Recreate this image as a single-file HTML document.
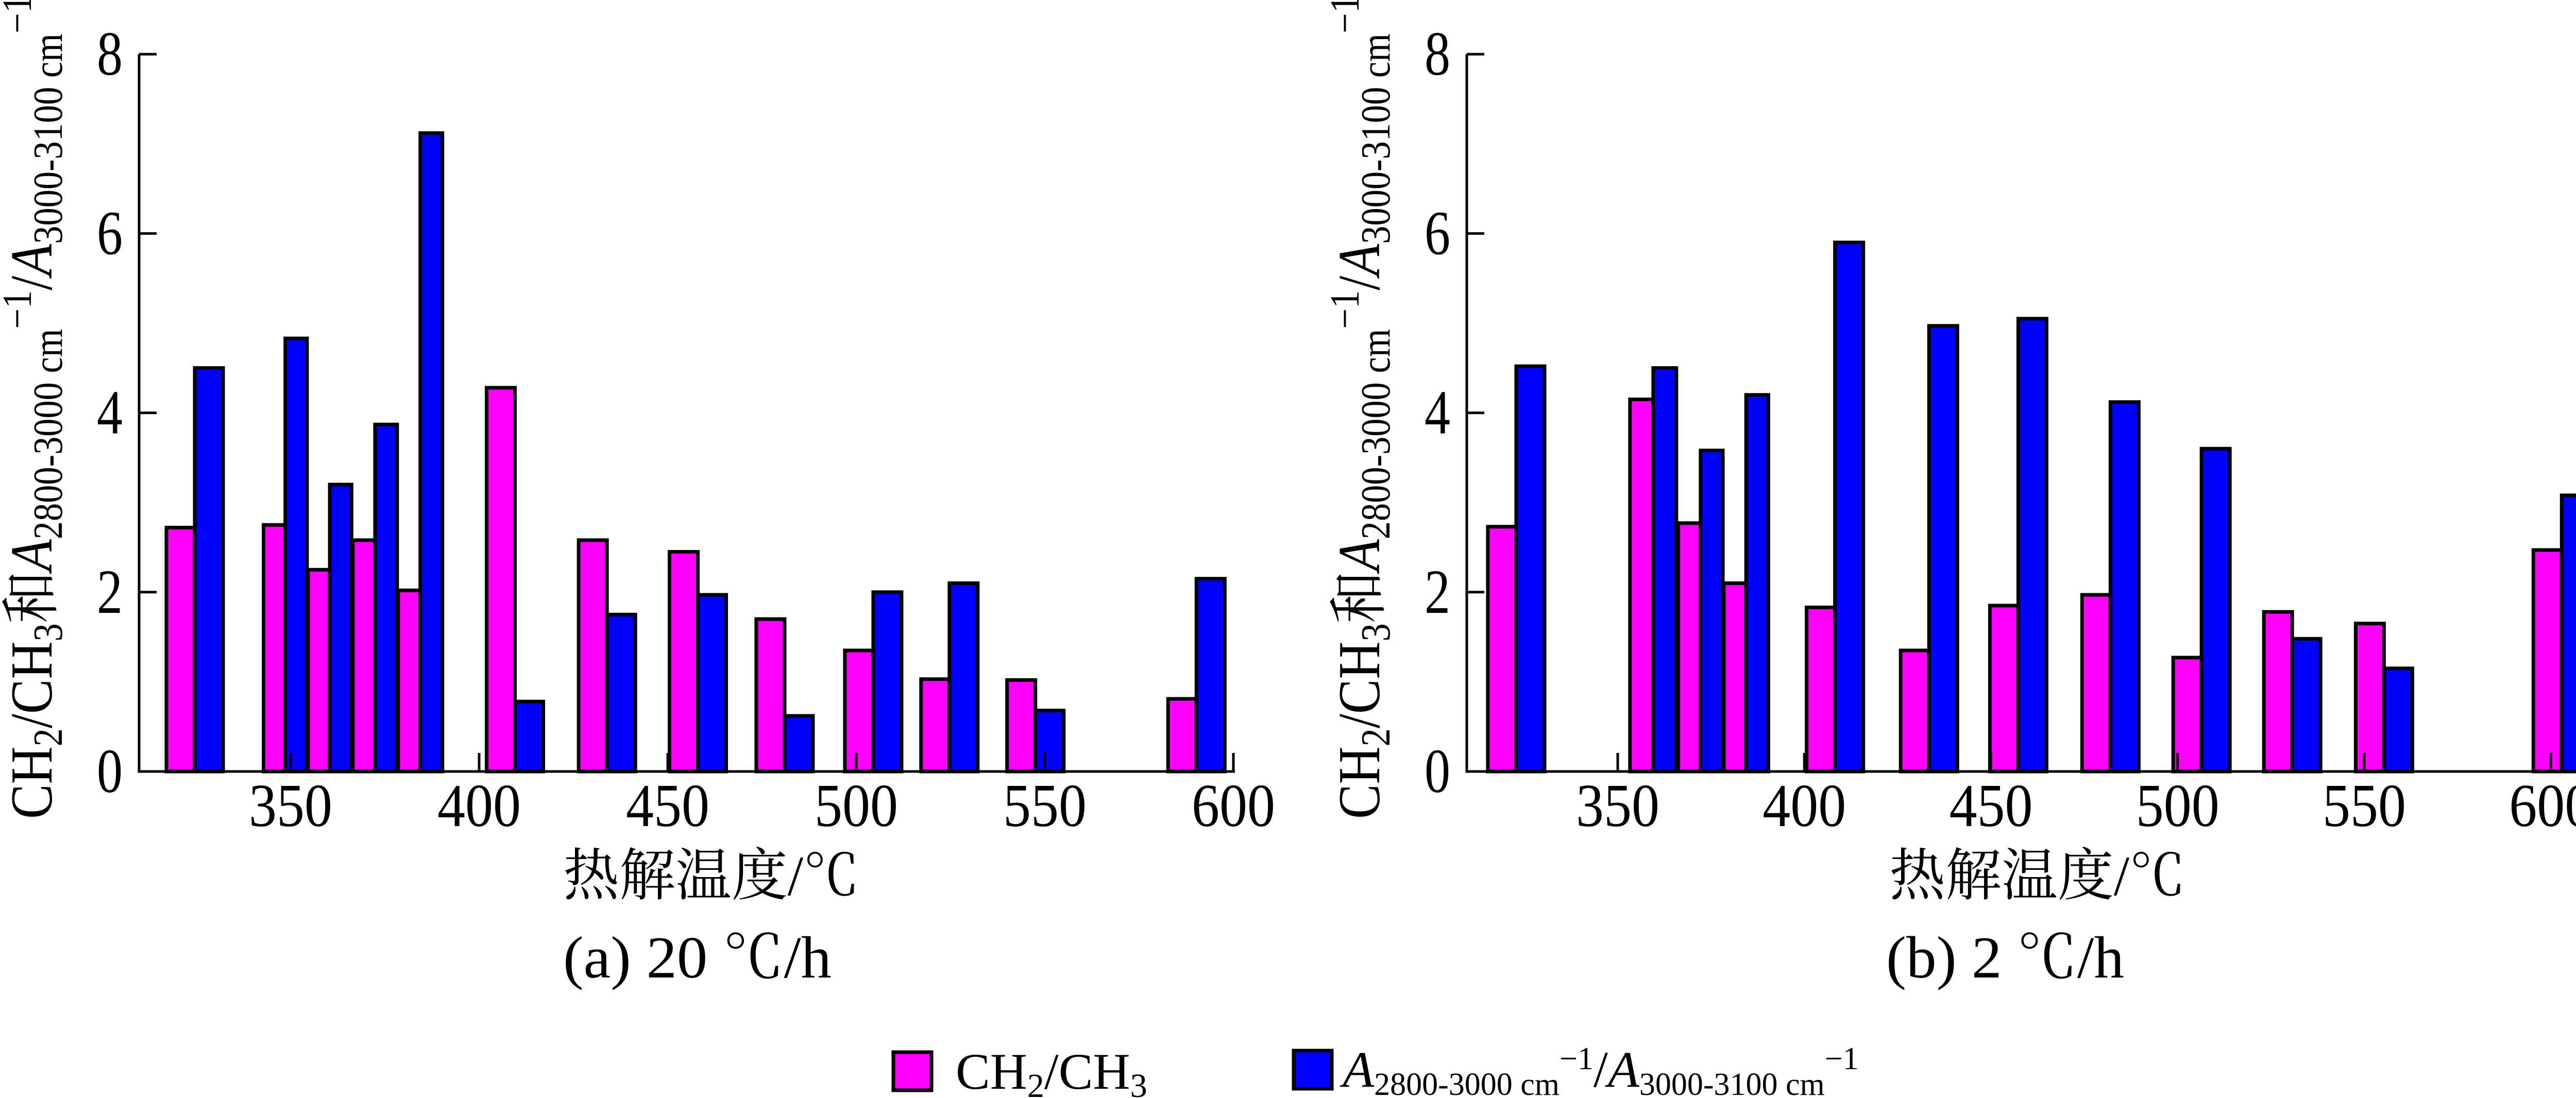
<!DOCTYPE html>
<html><head><meta charset="utf-8">
<style>
html,body{margin:0;padding:0;background:#fff;}
svg{display:block;font-family:"Liberation Serif","Noto Serif CJK SC","Noto Sans CJK SC",serif;}
</style></head>
<body>
<svg id="chart" width="5045" height="2132" viewBox="0 0 5045 2132" xmlns="http://www.w3.org/2000/svg">
<g id="panelA"></g>
<g id="panelB"></g>

<g transform="translate(1093,1738) scale(1,1.1)"><text x="0" y="0" font-size="100" textLength="575" lengthAdjust="spacingAndGlyphs">热解温度/℃</text></g>
<g transform="translate(1093,1898) scale(1,1.15)"><text x="0" y="0" font-size="100" textLength="521" lengthAdjust="spacingAndGlyphs">(a)  20 ℃/h</text></g>
<g transform="translate(3667,1738) scale(1,1.1)"><text x="0" y="0" font-size="100" textLength="575" lengthAdjust="spacingAndGlyphs">热解温度/℃</text></g>
<g transform="translate(3661,1898) scale(1,1.15)"><text x="0" y="0" font-size="100" textLength="462" lengthAdjust="spacingAndGlyphs">(b)  2 ℃/h</text></g>

<g transform="translate(100,1590) rotate(-90)">
<text font-size="115" textLength="1600" lengthAdjust="spacingAndGlyphs">CH<tspan font-size="80" dy="20">2</tspan><tspan dy="-20">/CH</tspan><tspan font-size="80" dy="20">3</tspan><tspan dy="-20">和</tspan><tspan font-style="italic">A</tspan><tspan font-size="80" dy="20">2800-3000 cm</tspan><tspan font-size="80" dy="-60">−1</tspan><tspan dy="40">/</tspan><tspan font-style="italic">A</tspan><tspan font-size="80" dy="20">3000-3100 cm</tspan><tspan font-size="80" dy="-60">−1</tspan></text>
</g>
<g transform="translate(2677,1590) rotate(-90)">
<text font-size="115" textLength="1600" lengthAdjust="spacingAndGlyphs">CH<tspan font-size="80" dy="20">2</tspan><tspan dy="-20">/CH</tspan><tspan font-size="80" dy="20">3</tspan><tspan dy="-20">和</tspan><tspan font-style="italic">A</tspan><tspan font-size="80" dy="20">2800-3000 cm</tspan><tspan font-size="80" dy="-60">−1</tspan><tspan dy="40">/</tspan><tspan font-style="italic">A</tspan><tspan font-size="80" dy="20">3000-3100 cm</tspan><tspan font-size="80" dy="-60">−1</tspan></text>
</g>

<g>
<rect x="1734" y="2043" width="74" height="74" fill="#ff00ff" stroke="#000" stroke-width="7"/>
<text x="1855" y="2114" font-size="100">CH<tspan font-size="66" dy="16">2</tspan><tspan dy="-16">/CH</tspan><tspan font-size="66" dy="16">3</tspan></text>
<rect x="2511" y="2040" width="74" height="74" fill="#0000ff" stroke="#000" stroke-width="7"/>
<text x="2606" y="2110" font-size="100"><tspan font-style="italic">A</tspan><tspan font-size="62" dy="16">2800-3000 cm</tspan><tspan font-size="62" dy="-50">−1</tspan><tspan dy="34">/</tspan><tspan font-style="italic">A</tspan><tspan font-size="62" dy="16">3000-3100 cm</tspan><tspan font-size="62" dy="-50">−1</tspan></text>
</g>
</svg>
<script>
const yTicks = [0, 2, 4, 6, 8];
const xTicks = [350, 400, 450, 500, 550, 600];
const tempsA = [324.6, 348.6, 360.4, 372.4, 384.4, 409.5, 433.9, 458.0, 481.0, 504.5, 524.7, 547.5, 590.2];
const ch2A = [2.72, 2.75, 2.25, 2.58, 2.02, 4.28, 2.58, 2.45, 1.70, 1.35, 1.03, 1.02, 0.81];
const ratioA = [4.50, 4.83, 3.20, 3.87, 7.12, 0.78, 1.75, 1.97, 0.62, 2.00, 2.10, 0.68, 2.15];
const tempsB = [322.8, 359.5, 372.2, 384.4, 408.2, 433.4, 457.3, 482.0, 506.4, 530.7, 555.3, 602.9];
const ch2B = [2.73, 4.15, 2.77, 2.10, 1.83, 1.35, 1.85, 1.97, 1.27, 1.78, 1.65, 2.47];
const ratioB = [4.52, 4.50, 3.58, 4.20, 5.90, 4.97, 5.05, 4.12, 3.60, 1.48, 1.15, 3.08];

const NS = 'http://www.w3.org/2000/svg';
function mk(tag, attrs, parent){
  const e = document.createElementNS(NS, tag);
  for (const k in attrs) e.setAttribute(k, attrs[k]);
  parent.appendChild(e);
  return e;
}
function drawPanel(g, cfg, temps, ch2, ratio, tag){
  const xs = t => cfg.x350 + (t - 350) * cfg.pxPerDeg;
  const ys = v => cfg.y0 - v * cfg.pxPerUnit;
  const axisLeft = cfg.axisLeft;
  temps.forEach((t, i) => {
    const c = xs(t);
    let gap = 1e9;
    if (i > 0) gap = Math.min(gap, c - xs(temps[i-1]));
    if (i < temps.length-1) gap = Math.min(gap, xs(temps[i+1]) - c);
    const w = Math.min(55, gap/2 - 1);
    const p = mk('rect', {x: c - w, y: ys(ch2[i]), width: w, height: ys(0) - ys(ch2[i]), fill:'#ff00ff', stroke:'#000', 'stroke-width':7}, g);
    
    
    const b = mk('rect', {x: c, y: ys(ratio[i]), width: w, height: ys(0) - ys(ratio[i]), fill:'#0000ff', stroke:'#000', 'stroke-width':7}, g);
    
    
  });
  const ya = mk('line', {x1: axisLeft, y1: ys(8), x2: axisLeft, y2: ys(0)+2.5, stroke:'#000', 'stroke-width':5}, g);
  
  
  const xa = mk('line', {x1: axisLeft - 2.5, y1: ys(0), x2: cfg.axisRight, y2: ys(0), stroke:'#000', 'stroke-width':5}, g);
  
  
  yTicks.forEach(v => {
    const tk = mk('line', {x1: axisLeft, y1: ys(v), x2: axisLeft + 34, y2: ys(v), stroke:'#000', 'stroke-width':5}, g);
    
    
    const tl = mk('text', {x: 0, y: 0, 'font-size': 100, 'text-anchor':'end',
      transform: 'translate(' + (axisLeft - 32) + ',' + (ys(v) + 40) + ') scale(1,1.22)'}, g);
    tl.textContent = v;
    
    
  });
  xTicks.forEach(t => {
    const tk = mk('line', {x1: xs(t), y1: ys(0), x2: xs(t), y2: ys(0) - 36, stroke:'#000', 'stroke-width':5}, g);
    
    
    const tl = mk('text', {x: 0, y: 0, 'font-size': 108, 'text-anchor':'middle',
      transform: 'translate(' + xs(t) + ',1604) scale(1,1.1)'}, g);
    tl.textContent = t;
    
    
  });
}
drawPanel(document.getElementById('panelA'),
  {x350: 564, pxPerDeg: 7.32, y0: 1498, pxPerUnit: 174.1, axisLeft: 270, axisRight: 2397},
  tempsA, ch2A, ratioA, 'a');
drawPanel(document.getElementById('panelB'),
  {x350: 3140, pxPerDeg: 7.245, y0: 1498, pxPerUnit: 174.1, axisLeft: 2847, axisRight: 5045},
  tempsB, ch2B, ratioB, 'b');
</script>
</body></html>
